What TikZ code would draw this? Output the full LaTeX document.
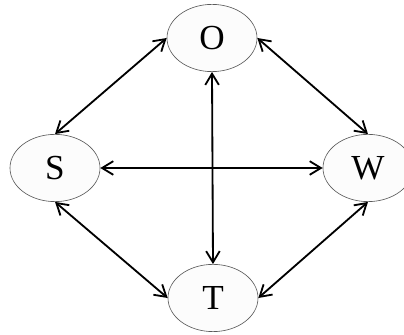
\documentclass[tikz,border=0pt]{standalone}
\usepackage{fontspec}
\setmainfont{Liberation Serif}
\usetikzlibrary{arrows.meta,shapes.geometric}
\definecolor{ovalfill}{RGB}{252,252,252}
\definecolor{ovaledge}{RGB}{90,90,90}

\tikzset{
  state/.style={ellipse,draw=ovaledge,fill=ovalfill,line width=0.45pt,
                minimum width=2.25cm,minimum height=1.68cm,inner sep=0pt,
                font=\fontsize{25}{29}\selectfont},
  link/.style={{Straight Barb[length=2.8mm,width=3.4mm]}-{Straight Barb[length=2.8mm,width=3.4mm]},
               line width=1.3pt,black}
}

\begin{document}
\begin{tikzpicture}[x=0.025cm,y=0.025cm]
    \useasboundingbox (0,0) rectangle (404,335);
    \node[state] (O) at (212,297) {O};
    \node[state] (S) at (55,167) {S};
    \node[state] (W) at (368,167) {W};
    \node[state] (T) at (213,37) {T};

    \draw[link] (O.west) -- (S.north);
    \draw[link] (O.east) -- (W.north);
    \draw[link] (S.south) -- (T.west);
    \draw[link] (W.south) -- (T.east);
    \draw[link] (S.east) -- (W.west);
    \draw[link] (O.south) -- (T.north);
  \end{tikzpicture}
\end{document}
